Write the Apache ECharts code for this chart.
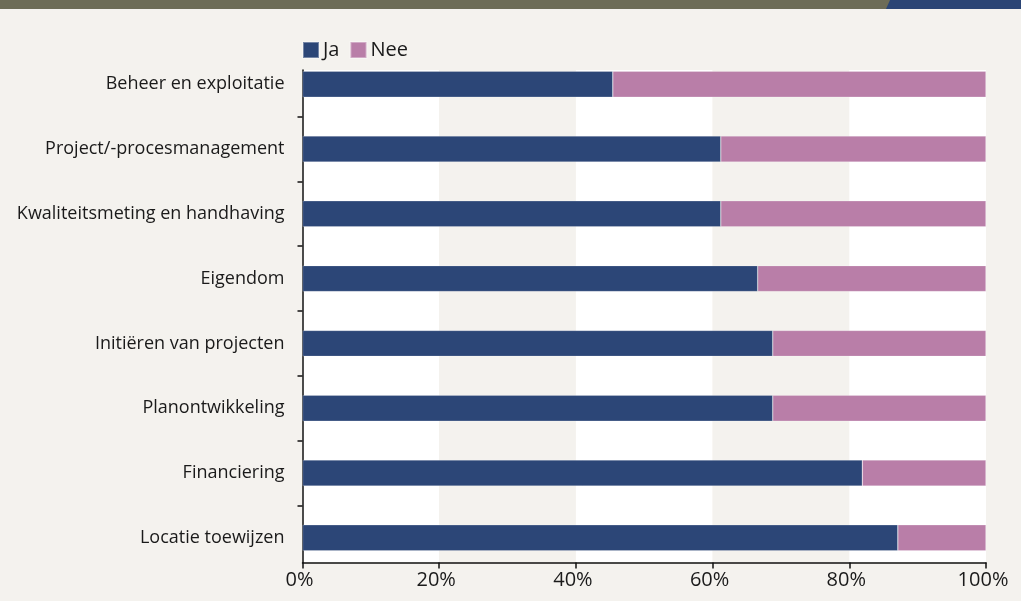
<!DOCTYPE html>
<html>
<head>
<meta charset="utf-8">
<script src="https://cdn.jsdelivr.net/npm/echarts@6/dist/echarts.min.js"></script>
<style>
  html,body{margin:0;padding:0;background:#f4f2ee;}
  #chart{width:1021px;height:601px;}
</style>
</head>
<body>
<div id="chart"></div>
<script>
  // categories top to bottom
  let categories = [
    'Beheer en exploitatie',
    'Project/-procesmanagement',
    'Kwaliteitsmeting en handhaving',
    'Eigendom',
    'Initiëren van projecten',
    'Planontwikkeling',
    'Financiering',
    'Locatie toewijzen'
  ];
  let ja = [45.4, 61.2, 61.2, 66.6, 68.8, 68.8, 81.9, 87.1];
  let nee = [54.6, 38.8, 38.8, 33.4, 31.2, 31.2, 18.1, 12.9];
  let seriesNames = ['Ja', 'Nee'];
  let xTicks = [0, 20, 40, 60, 80, 100];

  let font = '"Open Sans", sans-serif';
  let chart = echarts.init(document.getElementById('chart'));

  let option = {
    backgroundColor: '#f4f2ee',
    color: ['#2c4677', '#b97ea8'],
    textStyle: {fontFamily: font},
    graphic: [
      {type: 'rect', shape: {x: 0, y: 0, width: 1021, height: 9}, style: {fill: '#6d6c57'}},
      {type: 'polygon', shape: {points: [[890, 0], [1021, 0], [1021, 9], [886, 9]]}, style: {fill: '#2b4575'}}
    ],
    legend: {
      left: 297,
      top: 35,
      itemWidth: 16,
      itemHeight: 16,
      itemGap: 10,
      icon: 'rect',
      textStyle: {fontSize: 20, color: '#1a1a1a', fontFamily: font, padding: [0, 0, 0, -1]},
      data: seriesNames
    },
    grid: [
      // bars
      {left: 302.5, right: 35, top: 51.8, height: 518.4},
      // plot frame, bands, x axis
      {left: 302.5, right: 35, top: 70, height: 492.5},
      // y ticks between bars
      {left: 302.5, right: 35, top: 116.6, height: 388.8}
    ],
    xAxis: [
      {gridIndex: 0, type: 'value', min: 0, max: 100, show: false},
      {
        gridIndex: 1, type: 'value', min: 0, max: 100, interval: 20,
        axisLine: {show: true, lineStyle: {color: '#111', width: 1.5}},
        axisTick: {show: true, length: 6, lineStyle: {color: '#111', width: 1.5}},
        axisLabel: {
          margin: 8, fontSize: 20, color: '#1a1a1a', fontFamily: font,
          padding: [0, 6, 0, 0],
          formatter: function (v) { return xTicks.indexOf(v) >= 0 ? v + '%' : ''; }
        },
        splitLine: {show: false},
        splitArea: {show: true, areaStyle: {color: ['#ffffff', '#f4f2ee']}}
      },
      {gridIndex: 2, type: 'value', min: 0, max: 100, show: false}
    ],
    yAxis: [
      {
        gridIndex: 0, type: 'category', inverse: true, data: categories,
        axisLine: {show: false},
        axisTick: {show: false},
        axisLabel: {margin: 18, fontSize: 18, color: '#1a1a1a', fontFamily: font, padding: [4, 0, 0, 0]}
      },
      {
        gridIndex: 1, type: 'value', min: 0, max: 1,
        axisLine: {show: true, lineStyle: {color: '#111', width: 1.5}},
        axisTick: {show: false},
        axisLabel: {show: false},
        splitLine: {show: false}
      },
      {
        gridIndex: 2, type: 'category', data: ['', '', '', '', '', ''],
        axisLine: {show: false},
        axisTick: {show: true, length: 5, lineStyle: {color: '#111', width: 1.5}},
        axisLabel: {show: false}
      }
    ],
    series: [
      {
        name: seriesNames[0], type: 'bar', stack: 'total',
        xAxisIndex: 0, yAxisIndex: 0,
        barWidth: 26, data: ja,
        itemStyle: {borderColor: 'rgba(255,255,255,0.35)', borderWidth: 0.6}
      },
      {
        name: seriesNames[1], type: 'bar', stack: 'total',
        xAxisIndex: 0, yAxisIndex: 0,
        barWidth: 26, data: nee,
        itemStyle: {borderColor: 'rgba(255,255,255,0.35)', borderWidth: 0.6}
      }
    ]
  };
  chart.setOption(option);
</script>
</body>
</html>
